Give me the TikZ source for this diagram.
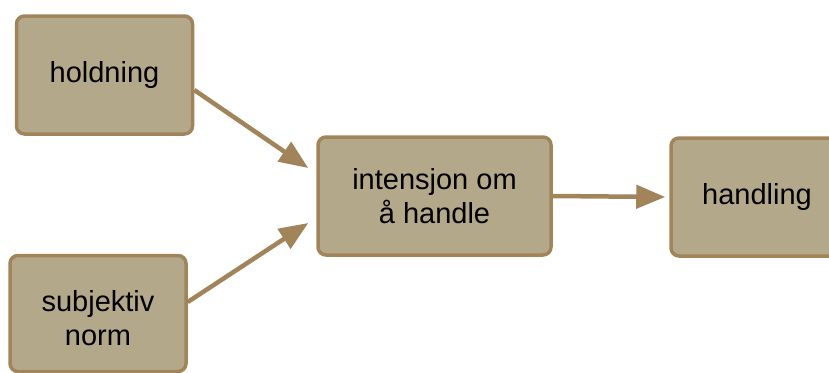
\documentclass[tikz,border=0pt]{standalone}
\usepackage{fontspec}
\setmainfont{Liberation Sans}
\usetikzlibrary{arrows.meta,calc}
\definecolor{boxfill}{HTML}{B4A88B}
\definecolor{boxline}{HTML}{A2845A}
\begin{document}
\begin{tikzpicture}[x=1pt,y=-1pt,
  lbl/.style={font=\fontsize{29}{34}\selectfont, align=center, inner sep=0pt},
  box/.style={lbl, draw=boxline, fill=boxfill, line width=3.5pt, rounded corners=8pt},
  arr/.style={draw=boxline, line width=4.5pt, -{Triangle[length=29pt,width=23pt]}}]
\useasboundingbox (0,0) rectangle (829,372);
\clip (0,0) rectangle (829,372);
\node[box, minimum width=176pt, minimum height=118pt] (hold) at (104.5,75) {holdning};
\node[box, minimum width=176pt, minimum height=116pt] (subj) at (98,313.5) {};
\node[lbl] (subjtext) at ($(subj.center)+(0,5)$) {subjektiv\\norm};
\node[box, minimum width=233pt, minimum height=118pt] (int) at (434.5,196) {intensjon om\\å handle};
\node[box, minimum width=172pt, minimum height=118pt] (hand) at (757,197) {handling};
\draw[arr] ($(hold.east)+(0,15)$) -- ($(int.west)+(-8,-28)$);
\draw[arr] ($(subj.east)+(0,-11.5)$) -- ($(int.west)+(-8,27)$);
\draw[arr] (int.east) -- ($(hand.west)+(-4,0)$);
\end{tikzpicture}
\end{document}
